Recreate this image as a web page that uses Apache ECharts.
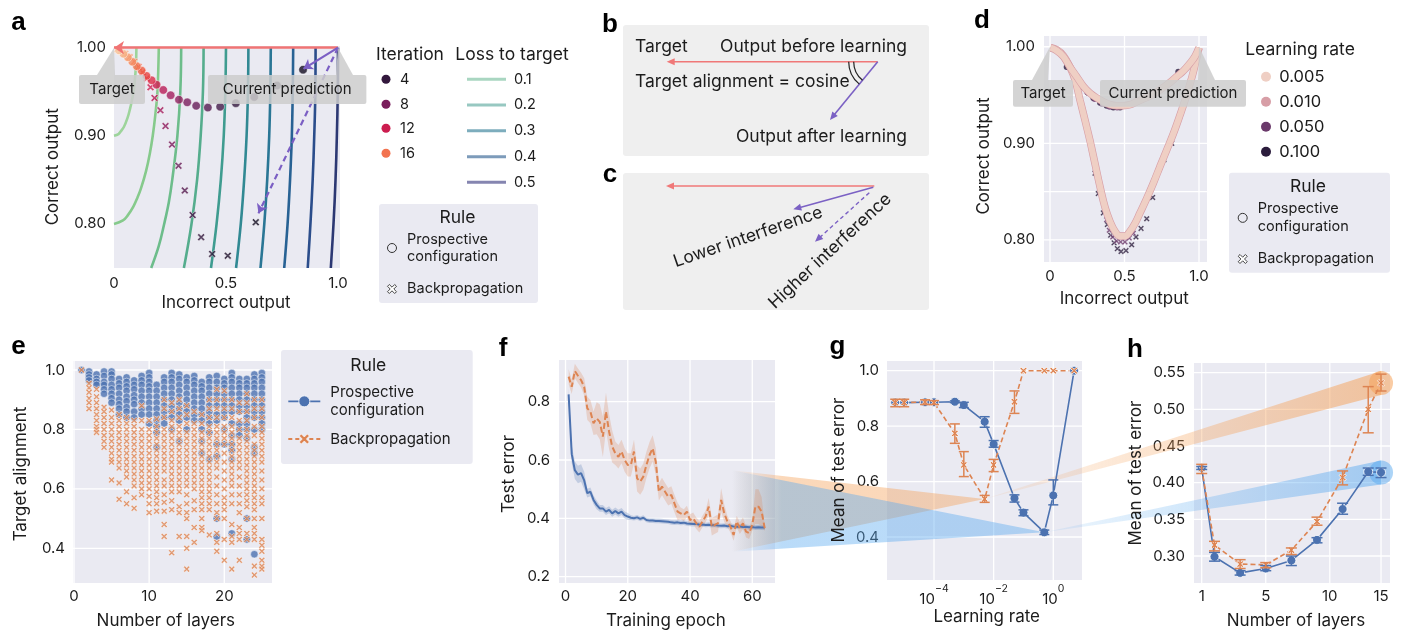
<!DOCTYPE html>
<html><head><meta charset="utf-8">
<script src="https://cdn.jsdelivr.net/npm/echarts@6/dist/echarts.min.js"></script>
<style>html,body{margin:0;padding:0;background:#fff}#c{width:1401px;height:632px}</style>
</head><body><div id="c"></div>
<script>
const FONT = 'Inter, "Noto Sans", "DejaVu Sans", sans-serif';
const TXT = '#1c1c1c';
const BLUE = '#4c72b0', ORANGE = '#dd8452';
const XPATH = 'path://M0,2L2,0L5,3L8,0L10,2L7,5L10,8L8,10L5,7L2,10L0,8L3,5Z';

// ---------------- Panel a ----------------
const aLossLevels = [0.1,0.2,0.3,0.4,0.5,0.6,0.7,0.8,0.9,1.0];
const aContours = [
 [[0,0.90],[0.02,0.902],[0.03,0.905],[0.044,0.91],[0.06,0.92],[0.071,0.93],[0.08,0.94],[0.087,0.95],[0.092,0.96],[0.098,0.98],[0.1,1.0]],
 [[0,0.80],[0.04,0.804],[0.062,0.81],[0.087,0.82],[0.105,0.83],[0.12,0.84],[0.143,0.86],[0.16,0.88],[0.173,0.90],[0.185,0.925],[0.194,0.95],[0.2,1.0]],
 [[0.166,0.75],[0.2,0.775],[0.224,0.80],[0.245,0.825],[0.26,0.85],[0.283,0.90],[0.296,0.95],[0.3,1.0]],
 [[0.312,0.75],[0.346,0.80],[0.371,0.85],[0.387,0.90],[0.397,0.95],[0.4,1.0]],
 [[0.433,0.75],[0.458,0.80],[0.477,0.85],[0.49,0.90],[0.497,0.95],[0.5,1.0]],
 [[0.545,0.75],[0.566,0.80],[0.581,0.85],[0.592,0.90],[0.598,0.95],[0.6,1.0]],
 [[0.654,0.75],[0.671,0.80],[0.684,0.85],[0.693,0.90],[0.698,0.95],[0.7,1.0]],
 [[0.76,0.75],[0.775,0.80],[0.786,0.85],[0.794,0.90],[0.798,0.95],[0.8,1.0]],
 [[0.865,0.75],[0.877,0.80],[0.887,0.85],[0.894,0.90],[0.899,0.95],[0.9,1.0]],
 [[0.968,0.75],[0.98,0.80],[0.989,0.85],[0.995,0.90],[0.999,0.95],[1.0,1.0]]
];
const contourColors = ['#9dd49b','#86ca8c','#6dbd8b','#55ad8d','#3f9c90','#318993','#2a7695','#286294','#2b4d8b','#2c3873'];
// [incorrect output, correct output, iteration]
const aPC = [[0.844,0.975,1],[0.728,0.957,2],[0.626,0.944,3],[0.544,0.937,4],[0.474,0.933,5],[0.419,0.932,6],[0.367,0.934,7],[0.327,0.938,8],[0.29,0.941,9],[0.253,0.946,10],[0.22,0.952,11],[0.19,0.958,12],[0.168,0.963,13],[0.145,0.968,14],[0.123,0.974,15],[0.102,0.979,16],[0.082,0.984,17],[0.062,0.989,18],[0.042,0.993,19],[0.022,0.997,20]];
const aBP = [[0.633,0.802,1],[0.508,0.764,2],[0.438,0.766,3],[0.389,0.785,4],[0.351,0.810,5],[0.316,0.838,6],[0.288,0.866,7],[0.259,0.890,8],[0.230,0.911,9],[0.207,0.929,10],[0.181,0.943,11],[0.163,0.955,12],[0.146,0.965,13],[0.128,0.972,14],[0.11,0.978,15],[0.09,0.984,16],[0.07,0.989,17],[0.05,0.993,18],[0.03,0.996,19],[0.015,0.998,20]];
const iterColors = ['#120b1f','#1f112c','#2a1636','#33183d','#441a48','#551c50','#671d57','#7a1e5c','#8e1e5e','#a31d5c','#b81b56','#cc1d4f','#dc2c47','#e74440','#ee5d44','#f2734f','#f4895e','#f59e70','#f6b185','#f7c39b'];
const aTarget = [0, 1.0], aStart = [1.0, 1.0];
const aPCstep = [0.846, 0.976], aBPstep = [0.645, 0.812];
const iterLegend = [4, 8, 12, 16];
const lossLegend = ['0.1','0.2','0.3','0.4','0.5'];

// ---------------- Panel d ----------------
const dShallow = [[0.004,0.999],[0.045,0.996],[0.089,0.99],[0.134,0.979],[0.179,0.969],[0.224,0.959],[0.268,0.952],[0.313,0.947],[0.358,0.943],[0.403,0.94],[0.447,0.939],[0.492,0.939],[0.537,0.94],[0.582,0.943],[0.626,0.946],[0.671,0.949],[0.716,0.953],[0.761,0.958],[0.805,0.963],[0.85,0.969],[0.895,0.975],[0.94,0.983],[0.973,0.99],[1.0,0.999]];
const dDeep = [[0.004,0.999],[0.045,0.997],[0.089,0.991],[0.134,0.979],[0.168,0.966],[0.201,0.945],[0.235,0.924],[0.268,0.903],[0.302,0.879],[0.336,0.855],[0.369,0.834],[0.403,0.819],[0.436,0.809],[0.47,0.804],[0.503,0.804],[0.537,0.809],[0.57,0.817],[0.604,0.828],[0.649,0.843],[0.694,0.859],[0.738,0.876],[0.783,0.893],[0.828,0.910],[0.872,0.929],[0.917,0.95],[0.962,0.974],[1.0,0.999]];
const dBP100 = [[0.302,0.869],[0.324,0.848],[0.358,0.828],[0.385,0.816],[0.407,0.805],[0.43,0.797],[0.452,0.791],[0.477,0.788],[0.51,0.789],[0.548,0.795],[0.577,0.803],[0.611,0.812],[0.649,0.822],[0.689,0.844],[0.765,0.883],[0.817,0.9]];
const dBP050 = [[0.38,0.821],[0.398,0.81],[0.421,0.803],[0.447,0.799],[0.474,0.798],[0.503,0.798],[0.532,0.802],[0.559,0.807]];
const dPC100 = [[0.112,0.979],[0.157,0.971],[0.19,0.964],[0.224,0.958],[0.257,0.952],[0.291,0.947],[0.336,0.942],[0.38,0.939],[0.425,0.937],[0.47,0.937],[0.794,0.962],[0.861,0.974]];
const dPC050 = [[0.2,0.962],[0.25,0.953],[0.3,0.946],[0.35,0.941],[0.4,0.938],[0.45,0.937]];
const lrLegend = ['0.005','0.010','0.050','0.100'];
const lrColors = ['#efcfc4','#d79ea6','#6b3a6b','#2b1c3c'];

// ---------------- Panel e ----------------
const eBlue = [
 [1.0],
 [0.995,0.985,0.975,0.965],
 [0.985,0.97,0.96,0.95],
 [0.995,0.98,0.96,0.95,0.935,0.92],
 [0.995,0.985,0.97,0.95,0.935,0.92,0.905,0.89],
 [0.97,0.955,0.94,0.92,0.90,0.885,0.87,0.85],
 [0.975,0.96,0.945,0.93,0.91,0.895,0.875,0.86,0.84],
 [0.965,0.95,0.935,0.915,0.9,0.885,0.86,0.84],
 [0.98,0.965,0.95,0.93,0.91,0.89,0.87,0.85],
 [0.99,0.975,0.96,0.945,0.93,0.91,0.89,0.87,0.85,0.82],
 [0.95,0.93,0.91,0.89,0.87,0.85,0.83,0.81,0.79,0.74],
 [0.975,0.96,0.94,0.92,0.9,0.88,0.86,0.84,0.82],
 [0.99,0.975,0.96,0.94,0.92,0.90,0.88,0.86,0.84,0.8],
 [0.985,0.97,0.95,0.93,0.91,0.89,0.87,0.85,0.83,0.76],
 [0.975,0.96,0.94,0.92,0.9,0.88,0.86,0.84,0.8],
 [0.98,0.965,0.95,0.93,0.91,0.89,0.87,0.85,0.83],
 [0.96,0.945,0.93,0.91,0.89,0.87,0.85,0.83,0.8,0.76,0.72],
 [0.975,0.96,0.94,0.92,0.9,0.88,0.86,0.84,0.82,0.79,0.7],
 [0.98,0.96,0.94,0.92,0.9,0.88,0.85,0.83,0.75,0.71,0.5,0.44],
 [0.97,0.955,0.94,0.92,0.9,0.88,0.86,0.84,0.8,0.75],
 [0.99,0.975,0.96,0.94,0.92,0.9,0.88,0.86,0.82,0.78,0.75,0.73,0.7,0.45],
 [0.97,0.955,0.94,0.92,0.9,0.88,0.86,0.82,0.8,0.78],
 [0.97,0.955,0.94,0.92,0.9,0.88,0.86,0.84,0.82,0.8,0.77,0.5,0.43],
 [0.985,0.97,0.955,0.94,0.92,0.9,0.88,0.86,0.84,0.8,0.74,0.72,0.38],
 [0.99,0.975,0.96,0.94,0.92,0.9,0.88,0.86,0.84,0.82,0.8]
];
const eOrange = [
 [1.0],
 [0.955,0.94,0.925,0.905,0.89,0.87],
 [0.935,0.91,0.89,0.87,0.85,0.83,0.81,0.8,0.79],
 [0.875,0.86,0.84,0.82,0.80,0.78,0.76,0.74],
 [0.865,0.84,0.82,0.80,0.78,0.76,0.74,0.72,0.70,0.69,0.63],
 [0.85,0.83,0.81,0.79,0.77,0.75,0.73,0.71,0.69,0.67,0.62,0.565],
 [0.84,0.82,0.80,0.78,0.76,0.74,0.72,0.70,0.68,0.66,0.64,0.59,0.55],
 [0.83,0.81,0.79,0.77,0.75,0.73,0.71,0.69,0.67,0.65,0.63,0.61,0.57,0.535],
 [0.88,0.83,0.80,0.78,0.76,0.74,0.72,0.70,0.68,0.66,0.64,0.62,0.60,0.58],
 [0.83,0.8,0.78,0.76,0.74,0.72,0.70,0.68,0.66,0.64,0.62,0.60,0.575,0.55,0.52],
 [0.835,0.81,0.79,0.77,0.75,0.73,0.71,0.69,0.67,0.65,0.63,0.61,0.59,0.57,0.55,0.525],
 [0.9,0.87,0.84,0.8,0.78,0.76,0.74,0.72,0.70,0.68,0.66,0.63,0.61,0.58,0.555,0.525,0.48,0.44],
 [0.89,0.86,0.83,0.81,0.79,0.77,0.75,0.73,0.71,0.69,0.67,0.65,0.63,0.61,0.59,0.56,0.53,0.385],
 [0.9,0.87,0.84,0.81,0.79,0.77,0.75,0.73,0.71,0.69,0.67,0.65,0.63,0.61,0.59,0.54,0.52,0.44],
 [0.88,0.85,0.82,0.79,0.77,0.75,0.73,0.71,0.69,0.67,0.65,0.63,0.61,0.58,0.55,0.52,0.5,0.44,0.4,0.33],
 [0.86,0.82,0.8,0.78,0.76,0.74,0.72,0.70,0.68,0.66,0.64,0.62,0.6,0.56,0.53,0.47,0.42],
 [0.85,0.82,0.79,0.77,0.75,0.73,0.71,0.69,0.67,0.65,0.63,0.61,0.59,0.57,0.55,0.53,0.5,0.47,0.46],
 [0.9,0.87,0.84,0.81,0.79,0.77,0.75,0.73,0.71,0.69,0.67,0.65,0.63,0.61,0.59,0.57,0.55,0.53,0.445],
 [0.935,0.9,0.87,0.84,0.81,0.79,0.77,0.75,0.73,0.71,0.69,0.67,0.64,0.61,0.58,0.55,0.52,0.5,0.45,0.42,0.39],
 [0.93,0.9,0.87,0.84,0.81,0.79,0.77,0.75,0.72,0.69,0.66,0.63,0.6,0.57,0.55,0.53,0.5,0.43,0.36],
 [0.9,0.87,0.84,0.81,0.79,0.77,0.75,0.73,0.71,0.69,0.67,0.65,0.63,0.61,0.58,0.55,0.48,0.44,0.42,0.33],
 [0.89,0.86,0.83,0.8,0.77,0.75,0.73,0.71,0.69,0.67,0.64,0.61,0.58,0.55,0.52,0.47,0.45,0.43,0.36],
 [0.92,0.89,0.86,0.83,0.8,0.78,0.76,0.74,0.72,0.7,0.68,0.66,0.64,0.62,0.6,0.58,0.56,0.54,0.5,0.45,0.43],
 [0.9,0.87,0.84,0.81,0.78,0.75,0.73,0.71,0.69,0.67,0.65,0.63,0.61,0.59,0.57,0.55,0.53,0.5,0.47,0.45,0.43,0.34,0.31],
 [0.9,0.87,0.84,0.81,0.79,0.77,0.75,0.73,0.71,0.69,0.66,0.63,0.6,0.57,0.55,0.5,0.43,0.41,0.39,0.36,0.34,0.33]
];

// ---------------- Panel f ----------------
const fPC = [0.825,0.62,0.565,0.55,0.555,0.53,0.486,0.491,0.463,0.446,0.434,0.434,0.423,0.429,0.417,0.425,0.417,0.423,0.411,0.406,0.402,0.40,0.403,0.398,0.402,0.394,0.392,0.392,0.391,0.391,0.39,0.389,0.388,0.386,0.385,0.386,0.384,0.385,0.382,0.381,0.38,0.381,0.378,0.379,0.377,0.378,0.376,0.377,0.375,0.374,0.375,0.373,0.374,0.372,0.371,0.372,0.37,0.371,0.369,0.37,0.368,0.369,0.368,0.368];
const fPCspread = [0.02,0.03,0.03,0.03,0.03,0.03,0.015,0.015,0.015,0.015,0.012,0.012,0.012,0.012,0.012,0.012,0.012,0.012,0.012,0.012,0.008,0.008,0.008,0.008,0.008,0.008,0.008,0.008,0.008,0.008,0.008,0.008,0.008,0.008,0.008,0.008,0.008,0.008,0.008,0.008,0.008,0.008,0.008,0.008,0.008,0.008,0.008,0.008,0.008,0.008,0.008,0.008,0.008,0.008,0.008,0.008,0.008,0.008,0.008,0.008,0.008,0.008,0.008,0.008];
const fBP = [0.886,0.851,0.905,0.889,0.874,0.851,0.777,0.766,0.726,0.743,0.731,0.68,0.766,0.697,0.646,0.623,0.611,0.629,0.60,0.583,0.583,0.629,0.537,0.526,0.543,0.583,0.617,0.64,0.594,0.491,0.509,0.491,0.474,0.48,0.451,0.423,0.417,0.411,0.423,0.394,0.40,0.383,0.371,0.389,0.406,0.44,0.371,0.377,0.383,0.463,0.417,0.389,0.371,0.343,0.389,0.366,0.383,0.354,0.349,0.377,0.44,0.44,0.423,0.366];
const fBPspread = [0.025,0.025,0.025,0.025,0.025,0.03,0.04,0.04,0.04,0.055,0.06,0.07,0.065,0.06,0.055,0.04,0.04,0.04,0.04,0.04,0.04,0.04,0.045,0.045,0.045,0.045,0.045,0.045,0.045,0.03,0.03,0.03,0.03,0.03,0.03,0.03,0.02,0.02,0.02,0.02,0.02,0.02,0.02,0.02,0.02,0.03,0.03,0.03,0.03,0.04,0.03,0.02,0.02,0.02,0.02,0.02,0.02,0.02,0.02,0.02,0.06,0.06,0.05,0.01];
const fEpochs = fPC.map((_, i) => i + 1);
const fZoomRegion = {epoch: 53.5, top: 0.565, bottom: 0.285};

// ---------------- Panel g ----------------
const gLR = [5e-6,1e-5,5e-5,1e-4,5e-4,1e-3,5e-3,1e-2,5e-2,1e-1,5e-1,1,5];
const gBP = [0.885,0.885,0.887,0.885,0.774,0.66,0.537,0.66,0.888,1.0,1.0,1.0,1.0];
const gBPlo = [0.87,0.87,0.878,0.878,0.738,0.618,0.525,0.636,0.846,1.0,1.0,1.0,1.0];
const gBPhi = [0.897,0.897,0.895,0.892,0.808,0.708,0.55,0.68,0.927,1.0,1.0,1.0,1.0];
const gPC = [0.885,0.885,0.886,0.886,0.888,0.876,0.816,0.735,0.54,0.488,0.417,0.55,1.0];
const gPClo = [0.885,0.885,0.886,0.886,0.885,0.867,0.796,0.724,0.526,0.477,0.409,0.516,1.0];
const gPChi = [0.885,0.885,0.886,0.886,0.891,0.886,0.834,0.748,0.552,0.498,0.425,0.606,1.0];

// ---------------- Panel h ----------------
const hLayers = [1,2,4,6,8,10,12,14,15];
const hBP = [0.4195,0.315,0.289,0.288,0.308,0.347,0.407,0.50,0.536];
const hBPlo = [0.4125,0.307,0.283,0.284,0.302,0.342,0.397,0.468,0.525];
const hBPhi = [0.425,0.32,0.295,0.291,0.311,0.353,0.416,0.531,0.548];
const hPC = [0.42,0.299,0.277,0.283,0.294,0.322,0.364,0.415,0.414];
const hPClo = [0.418,0.293,0.274,0.28,0.287,0.318,0.357,0.41,0.407];
const hPChi = [0.422,0.305,0.28,0.287,0.30,0.325,0.372,0.42,0.42];
const hTickPos = [1,6,11,15];
const hTickLabels = ['1','5','10','15'];

// ================= build =================
const chart = echarts.init(document.getElementById('c'), null, {renderer:'canvas', width:1401, height:632});
const grids = [
 {left:114, top:46, width:226, height:222},
 {left:1044, top:36, width:163, height:226},
 {left:73, top:361, width:199, height:222},
 {left:559, top:360, width:216, height:223},
 {left:887, top:361, width:195, height:219},
 {left:1194, top:363, width:196, height:220}
].map(g => Object.assign({show:true, backgroundColor:'#eaeaf2', borderWidth:0, containLabel:false}, g));

const TICK = 15;
function ax(extra, labels, fmt, margin) {
  return Object.assign({type:'value', axisLine:{show:false}, axisTick:{show:false}, splitLine:{show:false},
    axisLabel:{customValues:labels, formatter:fmt, color:TXT, fontSize:TICK, fontFamily:FONT, margin:margin, showMinLabel:true, showMaxLabel:true}}, extra);
}
const f1 = v => v === 0 ? '0' : v.toFixed(1);
const fx = v => String(Math.round(v));
const supFmt = v => { const e = Math.round(Math.log10(v)); return '{b|10}{s|' + (e < 0 ? '\u2212' + (-e) : e) + '}'; };
const xAxes = [
 ax({min:0, max:1.009}, [0,0.5,1.0], f1, 8),
 ax({min:-0.0403, max:1.0537}, [0,0.5,1.0], f1, 7),
 ax({min:-0.133, max:26.35}, [0,10,20], fx, 6),
 ax({min:-2.09, max:67.3}, [0,20,40,60], fx, 6),
 ax({type:'log', logBase:10, min:2.65e-6, max:9.19}, [1e-4,1e-2,1], supFmt, 3),
 ax({min:0.399, max:15.70}, hTickPos, v => hTickLabels[hTickPos.indexOf(Math.round(v))] || '', 6)
];
xAxes[4].axisLabel.rich = {b:{fontSize:TICK, fontFamily:FONT, color:TXT, lineHeight:24, verticalAlign:'bottom'}, s:{fontSize:10.5, fontFamily:FONT, color:TXT, lineHeight:12, verticalAlign:'top'}};
const yAxes = [
 ax({min:0.75, max:1.0019}, [0.8,0.9,1.0], v => v.toFixed(2), 8),
 ax({min:0.7772, max:1.0111}, [0.8,0.9,1.0], v => v.toFixed(2), 9),
 ax({min:0.2832, max:1.0303}, [0.4,0.6,0.8,1.0], v => v.toFixed(1), 8),
 ax({min:0.178, max:0.943}, [0.2,0.4,0.6,0.8], v => v.toFixed(1), 9),
 ax({min:0.2449, max:1.035}, [0.4,0.6,0.8,1.0], v => v.toFixed(1), 8),
 ax({min:0.2632, max:0.5632}, [0.30,0.35,0.40,0.45,0.50,0.55], v => v.toFixed(2), 9)
];
xAxes.forEach((a,i)=>a.gridIndex=i); yAxes.forEach((a,i)=>a.gridIndex=i);

const S = [];
function gridLineSeries(i, xs, ys, x0, y0) {
  const data = xs.map(v=>[v, y0, 0]).concat(ys.map(v=>[x0, v, 1]));
  return {type:'custom', xAxisIndex:i, yAxisIndex:i, z:1, silent:true, clip:false, data, encode:{x:0, y:1},
    renderItem(params, api){
      const p = api.coord([api.value(0), api.value(1)]);
      const cs = params.coordSys;
      const shape = api.value(2) === 0 ? {x1:p[0], y1:cs.y, x2:p[0], y2:cs.y+cs.height} : {x1:cs.x, y1:p[1], x2:cs.x+cs.width, y2:p[1]};
      return {type:'line', shape, style:{stroke:'#ffffff', lineWidth:1.3}};
    }};
}
S.push(gridLineSeries(1, [0,0.5,1.0], [0.8,0.85,0.9,0.95,1.0], 0, 0.8));
S.push(gridLineSeries(2, [0,10,20], [0.4,0.6,0.8,1.0], 0, 0.4));
S.push(gridLineSeries(3, [0,20,40,60], [0.2,0.4,0.6,0.8], 0, 0.4));
S.push(gridLineSeries(4, [1e-4,1e-2,1], [0.4,0.6,0.8,1.0], 1e-4, 0.4));
S.push(gridLineSeries(5, hTickPos, [0.30,0.35,0.40,0.45,0.50,0.55], 1, 0.3));

function bandSeries(i, xs, mid, spread, color) {
  return {type:'custom', xAxisIndex:i, yAxisIndex:i, z:2, silent:true, clip:true,
    data: xs.map((x,k)=>[x, mid[k]-spread[k], mid[k]+spread[k]]), encode:{x:0, y:[1,2]},
    renderItem(params, api){
      if (params.dataIndex !== 0) return null;
      const pts = [];
      for (let k=0;k<xs.length;k++) pts.push(api.coord([xs[k], mid[k]+spread[k]]));
      for (let k=xs.length-1;k>=0;k--) pts.push(api.coord([xs[k], mid[k]-spread[k]]));
      return {type:'polygon', shape:{points:pts}, style:{fill:color}};
    }};
}
function errSeries(i, xs, lo, hi, color, capW) {
  return {type:'custom', xAxisIndex:i, yAxisIndex:i, z:5, silent:true, clip:false,
    data: xs.map((x,k)=>[x, lo[k], hi[k]]), encode:{x:0, y:[1,2]},
    renderItem(params, api){
      if (api.value(2) - api.value(1) < 1e-6) return null;
      const a = api.coord([api.value(0), api.value(1)]), b = api.coord([api.value(0), api.value(2)]);
      const st = {stroke:color, lineWidth:1.5};
      return {type:'group', children:[
        {type:'line', shape:{x1:a[0],y1:a[1],x2:b[0],y2:b[1]}, style:st},
        {type:'line', shape:{x1:a[0]-capW,y1:a[1],x2:a[0]+capW,y2:a[1]}, style:st},
        {type:'line', shape:{x1:b[0]-capW,y1:b[1],x2:b[0]+capW,y2:b[1]}, style:st}]};
    }};
}

// panel a
aContours.forEach((pts, k) => S.push({type:'line', xAxisIndex:0, yAxisIndex:0, z:2, data:pts, smooth:0.4, showSymbol:false, silent:true,
  lineStyle:{color:contourColors[k], width:2.6}}));
S.push({type:'scatter', xAxisIndex:0, yAxisIndex:0, z:4, data:aBP, symbol:XPATH, symbolSize:7.5,
  itemStyle:{color:p => iterColors[p.data[2]-1], borderColor:'#fff', borderWidth:0.6}});
S.push({type:'scatter', xAxisIndex:0, yAxisIndex:0, z:4, data:aPC, symbol:'circle', symbolSize:8.5,
  itemStyle:{color:p => iterColors[p.data[2]-1], borderColor:'#fff', borderWidth:0.6}});
S.push({type:'lines', coordinateSystem:'cartesian2d', xAxisIndex:0, yAxisIndex:0, z:5, clip:false, silent:true,
  symbol:['none','arrow'], symbolSize:10, data:[{coords:[aStart, aTarget]}], lineStyle:{color:'#f07474', width:2.6, opacity:1}});
S.push({type:'lines', coordinateSystem:'cartesian2d', xAxisIndex:0, yAxisIndex:0, z:5, clip:false, silent:true,
  symbol:['none','arrow'], symbolSize:9, data:[{coords:[aStart, aPCstep]}], lineStyle:{color:'#7b5fc4', width:2.2, opacity:1}});
S.push({type:'lines', coordinateSystem:'cartesian2d', xAxisIndex:0, yAxisIndex:0, z:5, clip:false, silent:true,
  symbol:['none','arrow'], symbolSize:9, data:[{coords:[aStart, aBPstep]}], lineStyle:{color:'#7b5fc4', width:2.2, type:[6,4], opacity:1}});

// panel d
S.push({type:'scatter', xAxisIndex:1, yAxisIndex:1, z:3, data:dBP100, symbol:XPATH, symbolSize:6, itemStyle:{color:lrColors[3], borderColor:'#fff', borderWidth:0.4}});
S.push({type:'scatter', xAxisIndex:1, yAxisIndex:1, z:3, data:dBP050, symbol:XPATH, symbolSize:6, itemStyle:{color:lrColors[2], borderColor:'#fff', borderWidth:0.4}});
S.push({type:'scatter', xAxisIndex:1, yAxisIndex:1, z:3, data:dPC100, symbol:'circle', symbolSize:6, itemStyle:{color:lrColors[3]}});
S.push({type:'scatter', xAxisIndex:1, yAxisIndex:1, z:3, data:dPC050, symbol:'circle', symbolSize:6, itemStyle:{color:lrColors[2]}});
[dDeep, dShallow].forEach(arr => {
  S.push({type:'line', xAxisIndex:1, yAxisIndex:1, z:4, data:arr, smooth:0.4, showSymbol:false, silent:true, lineStyle:{color:lrColors[1], width:7.5}});
  S.push({type:'line', xAxisIndex:1, yAxisIndex:1, z:4, data:arr, smooth:0.4, showSymbol:false, silent:true, lineStyle:{color:lrColors[0], width:6.2}});
});

// panel e
const eBlueData = [], eOrangeData = [];
eBlue.forEach((vals, i) => vals.forEach(v => eBlueData.push([i+1, v])));
eOrange.forEach((vals, i) => vals.forEach(v => eOrangeData.push([i+1, v])));
S.push({type:'scatter', xAxisIndex:2, yAxisIndex:2, z:3, data:eBlueData, symbol:'circle', symbolSize:7.5, itemStyle:{color:BLUE, borderColor:'#fff', borderWidth:0.6}});
S.push({type:'scatter', xAxisIndex:2, yAxisIndex:2, z:4, data:eOrangeData, symbol:XPATH, symbolSize:6.5, itemStyle:{color:ORANGE, borderColor:'#fff', borderWidth:0.6}});

// panel f
S.push(bandSeries(3, fEpochs, fPC, fPCspread, 'rgba(76,114,176,0.25)'));
S.push(bandSeries(3, fEpochs, fBP, fBPspread, 'rgba(221,132,82,0.25)'));
S.push({type:'line', xAxisIndex:3, yAxisIndex:3, z:3, data:fEpochs.map((e,k)=>[e,fPC[k]]), showSymbol:false, silent:true, lineStyle:{color:BLUE, width:2}});
S.push({type:'line', xAxisIndex:3, yAxisIndex:3, z:3, data:fEpochs.map((e,k)=>[e,fBP[k]]), showSymbol:false, silent:true, lineStyle:{color:ORANGE, width:2, type:[6,3]}});

// panel g
S.push({type:'line', xAxisIndex:4, yAxisIndex:4, z:3, data:gLR.map((x,k)=>[x,gPC[k]]), symbol:'circle', symbolSize:9, silent:true,
  lineStyle:{color:BLUE, width:1.6}, itemStyle:{color:BLUE, borderColor:'#fff', borderWidth:0.8}});
S.push({type:'line', xAxisIndex:4, yAxisIndex:4, z:3, data:gLR.map((x,k)=>[x,gBP[k]]), symbol:XPATH, symbolSize:7, silent:true,
  lineStyle:{color:ORANGE, width:1.6, type:[5,3]}, itemStyle:{color:ORANGE, borderColor:'#fff', borderWidth:0.8}});
S.push(errSeries(4, gLR, gPClo, gPChi, BLUE, 5));
S.push(errSeries(4, gLR, gBPlo, gBPhi, ORANGE, 5));

// panel h
S.push({type:'line', xAxisIndex:5, yAxisIndex:5, z:3, data:hLayers.map((x,k)=>[x,hPC[k]]), symbol:'circle', symbolSize:9, silent:true,
  lineStyle:{color:BLUE, width:1.6}, itemStyle:{color:BLUE, borderColor:'#fff', borderWidth:0.8}});
S.push({type:'line', xAxisIndex:5, yAxisIndex:5, z:3, data:hLayers.map((x,k)=>[x,hBP[k]]), symbol:XPATH, symbolSize:7, silent:true,
  lineStyle:{color:ORANGE, width:1.6, type:[5,3]}, itemStyle:{color:ORANGE, borderColor:'#fff', borderWidth:0.8}});
S.push(errSeries(5, hLayers, hPClo, hPChi, BLUE, 5.5));
S.push(errSeries(5, hLayers, hBPlo, hBPhi, ORANGE, 5.5));

chart.setOption({animation:false, textStyle:{fontFamily:FONT}, grid:grids, xAxis:xAxes, yAxis:yAxes, series:S});

// ================= graphics =================
const px = (i, p) => chart.convertToPixel({xAxisIndex:i, yAxisIndex:i}, p);
const G = [];
function txt(x, y, s, o) {
  o = o || {};
  const el = {type:'text', x, y, z:o.z || 20, silent:true, style:{text:s, fill:o.color || TXT, font:(o.weight||'normal') + ' ' + (o.size||15) + 'px ' + (o.family||FONT),
    align:o.align||'left', verticalAlign:o.valign||'middle', textAlign:o.align||'left', textVerticalAlign:o.valign||'middle'}};
  if (o.rotation) el.rotation = o.rotation;
  return el;
}
function line(x1,y1,x2,y2,color,w,dash,z) {
  return {type:'line', z:z||20, silent:true, shape:{x1,y1,x2,y2}, style:{stroke:color, lineWidth:w||1.5, lineDash:dash||null}};
}
function arrow(x1,y1,x2,y2,color,w,dash,hl,hw) {
  hl = hl || 8; hw = hw || 3.5;
  const dx = x2-x1, dy = y2-y1, L = Math.hypot(dx,dy), ux = dx/L, uy = dy/L;
  const bx = x2-ux*hl, by = y2-uy*hl;
  return [line(x1,y1,bx+ux*1,by+uy*1,color,w,dash),
    {type:'polygon', z:20, silent:true, shape:{points:[[x2,y2],[bx-uy*hw,by+ux*hw],[bx+uy*hw,by-ux*hw]]}, style:{fill:color}}];
}
function rect(x,y,w,h,fill,z,r) { return {type:'rect', z:z||5, silent:true, shape:{x,y,width:w,height:h,r:r||0}, style:{fill}}; }
function xPts(cx, cy, s) {
  const base = [[0,2],[2,0],[5,3],[8,0],[10,2],[7,5],[10,8],[8,10],[5,7],[2,10],[0,8],[3,5]];
  return base.map(([u,v]) => [cx+(u-5)*s/10, cy+(v-5)*s/10]);
}
const LEGT = 17.5, LEGE = 14.5;
function ruleBox(x, y, w, h, titleX, titleY, mx, pY1, pY2, bY, style) {
  const out = [rect(x,y,w,h,'#eaeaf2',5,3), txt(titleX, titleY, 'Rule', {align:'center', size:LEGT})];
  if (style === 'lines') {
    out.push(line(mx-16, (pY1+pY2)/2, mx+16, (pY1+pY2)/2, BLUE, 1.8));
    out.push({type:'circle', z:21, silent:true, shape:{cx:mx, cy:(pY1+pY2)/2, r:5.5}, style:{fill:BLUE, stroke:'#fff', lineWidth:0.8}});
    out.push(line(mx-16, bY, mx+16, bY, ORANGE, 1.8, [4,3]));
    out.push({type:'polygon', z:21, silent:true, shape:{points:xPts(mx, bY, 10)}, style:{fill:ORANGE, stroke:'#fff', lineWidth:0.6}});
  } else {
    out.push({type:'circle', z:21, silent:true, shape:{cx:mx, cy:(pY1+pY2)/2, r:4.5}, style:{fill:'none', stroke:'#333', lineWidth:1}});
    out.push({type:'polygon', z:21, silent:true, shape:{points:xPts(mx, bY, 9)}, style:{fill:'#fff', stroke:'#333', lineWidth:0.9}});
  }
  const tx = style === 'lines' ? mx + 26 : mx + 15;
  const sz = style === 'lines' ? 15 : LEGE;
  out.push(txt(tx, pY1, 'Prospective', {size:sz}), txt(tx, pY2, 'configuration', {size:sz}), txt(tx, bY, 'Backpropagation', {size:sz}));
  return out;
}
function callout(pt, boxL, boxT, boxW, boxH, baseL, baseR, label) {
  const fill = 'rgba(205,205,205,0.85)';
  return [{type:'polygon', z:15, silent:true, shape:{points:[[pt[0],pt[1]],[baseL,boxT],[baseR,boxT]]}, style:{fill}},
    rect(boxL, boxT, boxW, boxH, fill, 15, 2), txt(boxL+boxW/2, boxT+boxH/2, label, {align:'center', z:21})];
}

// panel letters
const LF = '"Liberation Sans", Arial, sans-serif';
[['a',18.5,23],['b',610,25],['c',610,175],['d',982,21],['e',18.5,347],['f',503,349],['g',837.5,347],['h',1135,350]].forEach(([l,x,y]) =>
  G.push(txt(x, y, l, {align:'center', size:26, weight:'bold', family:LF, color:'#000'})));

// axis titles
const rot = Math.PI/2, AT = 17;
G.push(txt(52.5, 166.7, 'Correct output', {align:'center', rotation:rot, size:AT}));
G.push(txt(226, 302.5, 'Incorrect output', {align:'center', size:AT}));
G.push(txt(984, 156, 'Correct output', {align:'center', rotation:rot, size:AT}));
G.push(txt(1124.3, 298.5, 'Incorrect output', {align:'center', size:AT}));
G.push(txt(20.5, 474, 'Target alignment', {align:'center', rotation:rot, size:AT}));
G.push(txt(165.8, 621, 'Number of layers', {align:'center', size:AT}));
G.push(txt(509, 474, 'Test error', {align:'center', rotation:rot, size:AT}));
G.push(txt(666, 621, 'Training epoch', {align:'center', size:AT}));
G.push(txt(839, 470, 'Mean of test error', {align:'center', rotation:rot, size:AT}));
G.push(txt(986.7, 617, 'Learning rate', {align:'center', size:AT}));
G.push(txt(1135.8, 473, 'Mean of test error', {align:'center', rotation:rot, size:AT}));
G.push(txt(1296, 621, 'Number of layers', {align:'center', size:AT}));

// panel a legends
G.push(txt(410, 54.5, 'Iteration', {align:'center', size:LEGT}));
const iterLegendColors = ['#33183d','#7a1e5c','#cc1d4f','#f2734f'];
iterLegend.forEach((it, k) => {
  const y = [79.3,104.3,128.3,153.3][k];
  G.push({type:'circle', z:20, silent:true, shape:{cx:386, cy:y, r:4.5}, style:{fill:iterLegendColors[k]}});
  G.push(txt(400, y, String(it), {size:LEGE}));
});
G.push(txt(512, 54.5, 'Loss to target', {align:'center', size:LEGT}));
const lossLegendColors = ['#a9d6c1','#97c8c1','#7dadbd','#7d9bba','#8585b0'];
lossLegend.forEach((l, k) => {
  const y = [79.3,105,130.7,156.7,182.3][k];
  G.push(line(467, y, 506, y, lossLegendColors[k], 3));
  G.push(txt(514, y, l, {size:LEGE}));
});
G.push(...ruleBox(379, 204, 159, 99, 457.5, 218, 392, 239.3, 256.7, 289, 'marks'));

// panel a callouts
const aT = px(0, aTarget), aS = px(0, aStart);
G.push(...callout(aT, aT[0]-35, 75, 66, 29, aT[0]-17, aT[0]+1, 'Target'));
G.push(...callout(aS, aS[0]-130, 75, 158.4, 29, aS[0]-2, aS[0]+15, 'Current prediction'));

// panel b
const BC = 17.5;
G.push(rect(623, 25, 306, 131, '#efefef', 5, 3));
G.push(txt(635, 46.7, 'Target', {size:BC}));
G.push(txt(907, 46.7, 'Output before learning', {size:BC, align:'right'}));
G.push(...arrow(877.7, 61.7, 666.7, 61.7, '#f07878', 1.6));
G.push(...arrow(877.7, 61.7, 830, 120, '#7b61c4', 1.6));
[24, 29].forEach(r => G.push({type:'arc', z:20, silent:true, shape:{cx:877.7, cy:61.7, r, startAngle:2.256, endAngle:Math.PI, clockwise:true}, style:{stroke:'#222', lineWidth:1.2, fill:null}}));
G.push(txt(635, 81.7, 'Target alignment = cosine', {size:BC}));
G.push(txt(907, 136.7, 'Output after learning', {size:BC, align:'right'}));

// panel c
G.push(rect(623, 173, 306, 137, '#efefef', 5, 3));
G.push(...arrow(874.3, 186, 666, 186, '#f07878', 1.6));
G.push(...arrow(873.3, 187.3, 793.3, 209.3, '#7b61c4', 1.6));
G.push(...arrow(869.3, 192.7, 815, 241.7, '#7b61c4', 1.4, [4,3]));
G.push(txt(748, 237, 'Lower interference', {align:'center', rotation:0.33, size:BC}));
G.push(txt(830, 251, 'Higher interference', {align:'center', rotation:0.75, size:BC}));

// panel d legends / callouts
G.push(txt(1300, 50, 'Learning rate', {align:'center', size:LEGT}));
lrLegend.forEach((l, k) => {
  const y = [76.7,101.7,126.7,151.7][k];
  G.push({type:'circle', z:20, silent:true, shape:{cx:1266, cy:y, r:5}, style:{fill:lrColors[k]}});
  G.push(txt(1279.3, y, l, {size:16.5}));
});
G.push(...ruleBox(1229, 172.7, 161, 100, 1308, 186.7, 1242.7, 209, 226.7, 259, 'marks'));
const dT = px(1, [0,1.0]), dS = px(1, [1.0,1.0]);
G.push(...callout(dT, dT[0]-37, 80, 60, 26.7, dT[0]-18, dT[0]-2, 'Target'));
G.push(...callout(dS, dS[0]-99, 80, 146, 26.7, dS[0]-1, dS[0]+16, 'Current prediction'));

// panel e legend
G.push(...ruleBox(281, 350, 191.7, 114, 368.3, 366, 304.3, 392.7, 410, 439, 'lines'));

// connectors f -> g -> h
const fTop = px(3, [fZoomRegion.epoch, fZoomRegion.top]), fBot = px(3, [fZoomRegion.epoch, fZoomRegion.bottom]);
const gBpMin = px(4, [gLR[6], gBP[6]]), gPcMin = px(4, [gLR[10], gPC[10]]);
const hBpEnd = px(5, [hLayers[8], hBP[8]]), hPcEnd = px(5, [hLayers[8], hPC[8]]);
function grad(x0, x1, c0, c1) {
  return {type:'linear', x:x0, y:0, x2:x1, y2:0, global:true, colorStops:[{offset:0, color:c0},{offset:1, color:c1}]};
}
G.push({type:'polygon', z:1, silent:true, shape:{points:[fTop, fBot, gBpMin]}, style:{fill:grad(fTop[0], fTop[0]+50, 'rgba(245,162,90,0)', 'rgba(245,162,90,0.42)')}});
G.push({type:'polygon', z:1, silent:true, shape:{points:[fTop, fBot, gPcMin]}, style:{fill:grad(fTop[0], fTop[0]+50, 'rgba(90,170,240,0)', 'rgba(90,170,240,0.42)')}});
const R = 12;
G.push({type:'polygon', z:1, silent:true, shape:{points:[gBpMin, [hBpEnd[0], hBpEnd[1]-R], [hBpEnd[0], hBpEnd[1]+R]]}, style:{fill:grad(gBpMin[0], hBpEnd[0], 'rgba(245,162,90,0.1)', 'rgba(245,162,90,0.55)')}});
G.push({type:'polygon', z:1, silent:true, shape:{points:[gPcMin, [hPcEnd[0], hPcEnd[1]-R], [hPcEnd[0], hPcEnd[1]+R]]}, style:{fill:grad(gPcMin[0], hPcEnd[0], 'rgba(90,170,240,0.1)', 'rgba(90,170,240,0.5)')}});
G.push({type:'circle', z:1, silent:true, shape:{cx:hBpEnd[0], cy:hBpEnd[1], r:R}, style:{fill:'rgba(245,162,90,0.55)'}});
G.push({type:'circle', z:1, silent:true, shape:{cx:hPcEnd[0], cy:hPcEnd[1], r:R}, style:{fill:'rgba(90,170,240,0.5)'}});

chart.setOption({graphic:{elements:G}});
</script></body></html>
